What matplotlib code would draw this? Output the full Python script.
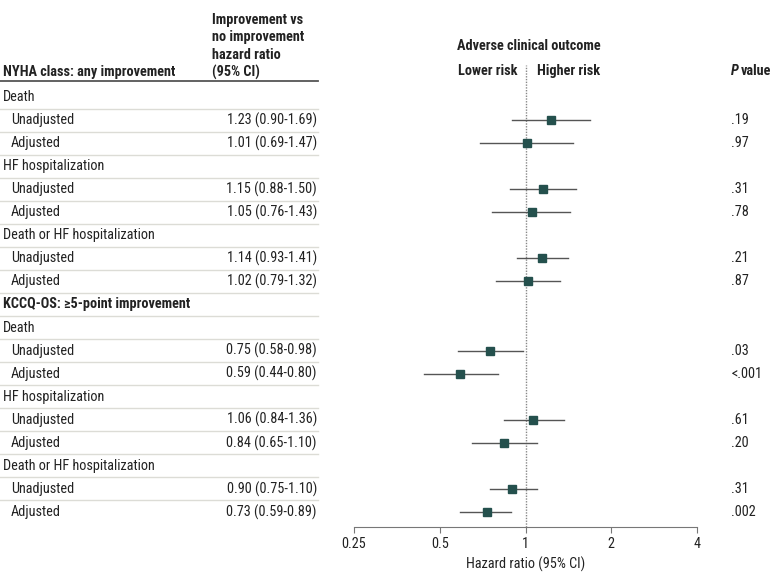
import numpy as np
import matplotlib
matplotlib.use("Agg")
import matplotlib.pyplot as plt
from matplotlib import font_manager
from matplotlib.transforms import blended_transform_factory

installed = {f.name for f in font_manager.fontManager.ttflist}
main_font = next((f for f in ['Liberation Sans Narrow', 'Roboto Condensed', 'Lato', 'Roboto']
                  if f in installed), 'DejaVu Sans')
plt.rcParams['font.family'] = [main_font, 'DejaVu Sans']
plt.rcParams['font.size'] = 10.3

# data
sections = ["NYHA class: any improvement", "KCCQ-OS: \u22655-point improvement"]
outcomes = ["Death", "HF hospitalization", "Death or HF hospitalization"]
models = ["Unadjusted", "Adjusted"]

nyha_hr = [1.23, 1.01, 1.15, 1.05, 1.14, 1.02]
nyha_lo = [0.90, 0.69, 0.88, 0.76, 0.93, 0.79]
nyha_hi = [1.69, 1.47, 1.50, 1.43, 1.41, 1.32]
nyha_p = [".19", ".97", ".31", ".78", ".21", ".87"]

kccq_hr = [0.75, 0.59, 1.06, 0.84, 0.90, 0.73]
kccq_lo = [0.58, 0.44, 0.84, 0.65, 0.75, 0.59]
kccq_hi = [0.98, 0.80, 1.36, 1.10, 1.10, 0.89]
kccq_p = [".03", "<.001", ".61", ".20", ".31", ".002"]

xticks = [0.25, 0.5, 1, 2, 4]
xticklabels = ["0.25", "0.5", "1", "2", "4"]

W, H = 783, 581
def fx(px): return px / W
def fy(py): return 1 - py / H

fig = plt.figure(figsize=(W / 100, H / 100), dpi=100)
ax = fig.add_axes([fx(354), fy(527), 343 / W, (527 - 64.7) / H])
tr = blended_transform_factory(fig.transFigure, ax.transData)

txt_c = "#222222"
marker_c = "#24504d"
line_c = "#555555"
sep_c = "#dcdcd6"

# build rows
rows = []  # (label, indent, bold, est, lo, hi, p)
for s, (hr, lo, hi, pv) in enumerate([(nyha_hr, nyha_lo, nyha_hi, nyha_p),
                                       (kccq_hr, kccq_lo, kccq_hi, kccq_p)]):
    if s > 0:
        rows.append((sections[s], 3, True, None, None, None, None))
    k = 0
    for o in outcomes:
        rows.append((o, 3, False, None, None, None, None))
        for m in models:
            rows.append((m, 11, False, hr[k], lo[k], hi[k], pv[k]))
            k += 1

for i, (lab, ind, bold, est, lo, hi, pv) in enumerate(rows):
    fig.text(fx(ind), i, lab, transform=tr, ha='left', va='center',
             fontweight='bold' if bold else 'normal', color=txt_c)
    if est is not None:
        fig.text(fx(317), i, f"{est:.2f} ({lo:.2f}-{hi:.2f})", transform=tr,
                 ha='right', va='center', color=txt_c)
        fig.text(fx(731), i, pv, transform=tr, ha='left', va='center', color=txt_c)
        ax.plot([lo, hi], [i, i], color=line_c, lw=1.0, zorder=2)
        ax.plot([est], [i], marker='s', ms=5.6, color=marker_c, zorder=3)
    if i < len(rows) - 1:
        fig.add_artist(plt.Line2D([0, fx(318)], [i + 0.5, i + 0.5], transform=tr,
                                  color=sep_c, lw=1.0))

# header
fig.add_artist(plt.Line2D([0, fx(318)], [fy(81), fy(81)], color='#555555', lw=1.3))
fig.text(fx(3), fy(72), sections[0], ha='left', va='center', fontweight='bold', color=txt_c)
for j, t in enumerate(["Improvement vs", "no improvement", "hazard ratio", "(95% CI)"]):
    fig.text(fx(212), fy(20 + j * 17.4), t, ha='left', va='center', fontweight='bold', color=txt_c)
fig.text(fx(529), fy(46), "Adverse clinical outcome", ha='center', va='center',
         fontweight='bold', color=txt_c)
fig.text(fx(518), fy(71), "Lower risk", ha='right', va='center', fontweight='bold', color=txt_c)
fig.text(fx(537), fy(71), "Higher risk", ha='left', va='center', fontweight='bold', color=txt_c)
fig.text(fx(731), fy(71), "P", ha='left', va='center', fontweight='bold', style='italic', color=txt_c)
fig.text(fx(741), fy(71), "value", ha='left', va='center', fontweight='bold', color=txt_c)

# forest axis
ax.axvline(1, color='#888888', lw=1.0, ls=(0, (1, 1)), zorder=1)
ax.set_xscale('log', base=2)
ax.set_xlim(0.25, 4)
ax.set_ylim(18.65, -1.4)
ax.set_xticks(xticks)
ax.set_xticklabels(xticklabels)
ax.minorticks_off()
ax.set_yticks([])
for sp in ['top', 'left', 'right']:
    ax.spines[sp].set_visible(False)
ax.spines['bottom'].set_color('#777777')
ax.tick_params(axis='x', length=4, color='#777777', labelcolor=txt_c, pad=3)
ax.set_xlabel("Hazard ratio (95% CI)", color=txt_c, labelpad=4)
ax.patch.set_alpha(0)

fig.savefig("out.png", dpi=100)
